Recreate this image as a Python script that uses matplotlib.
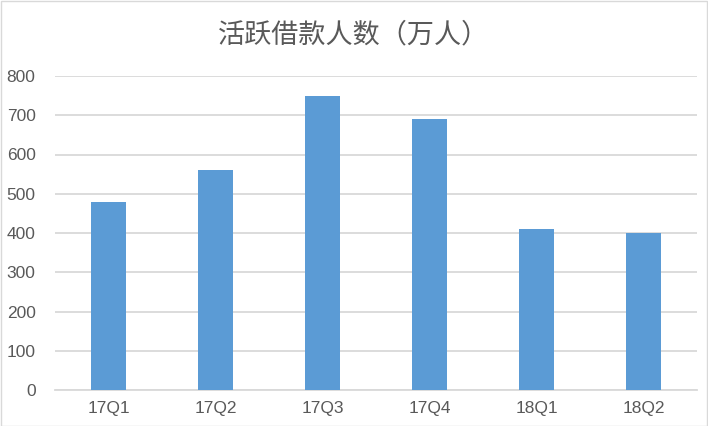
import matplotlib.pyplot as plt
from matplotlib.patches import Rectangle

quarters = ['17Q1', '17Q2', '17Q3', '17Q4', '18Q1', '18Q2']
borrowers = [480, 560, 750, 690, 410, 400]
yticks = [0, 100, 200, 300, 400, 500, 600, 700, 800]

plt.rcParams['font.family'] = ['Liberation Sans', 'Noto Sans CJK SC', 'DejaVu Sans']

fig = plt.figure(figsize=(7.08, 4.26), dpi=100)
ax = fig.add_axes([55 / 708, 1 - 390 / 426, 642 / 708, 314 / 426])

x = range(len(quarters))
ax.bar(x, borrowers, width=0.32, color='#5b9bd5', zorder=3)
ax.set_xlim(-0.5, len(quarters) - 0.5)
ax.set_ylim(0, 800)
ax.set_yticks(yticks)
ax.set_xticks(list(x))
ax.set_xticklabels(quarters)

ax.grid(axis='y', color='#d9d9d9', linewidth=1.3, zorder=0)
for s in ['top', 'right', 'left']:
    ax.spines[s].set_visible(False)
ax.spines['bottom'].set_color('#d9d9d9')
ax.spines['bottom'].set_linewidth(1.3)
ax.tick_params(length=0, labelsize=12.5, labelcolor='#595959')
ax.tick_params(axis='x', pad=8)
ax.tick_params(axis='y', pad=14)

fig.text(0.5, 1 - 35 / 426, '活跃借款人数（万人）', ha='center', va='center',
         fontsize=19.5, color='#595959', family=['Noto Sans CJK SC', 'DejaVu Sans'])

# light frame around the whole chart
fig.patches.append(Rectangle((0.001, 0.001), 0.997, 0.997, transform=fig.transFigure,
                             fill=False, edgecolor='#d9d9d9', linewidth=1))

fig.savefig('out.png', dpi=100)
